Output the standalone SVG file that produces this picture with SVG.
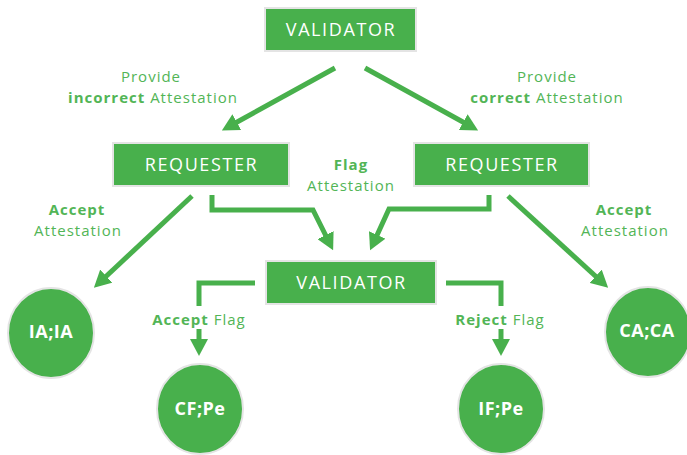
<svg xmlns="http://www.w3.org/2000/svg" width="687" height="455" viewBox="0 0 687 455">
<style>
.box{fill:#48b04c;stroke:#e4e4e4;stroke-width:2}
.circ{fill:#48b04c;stroke:#e4e4e4;stroke-width:2}
.bt{font-family:"Open Sans","Liberation Sans",sans-serif;font-size:18px;font-weight:500;fill:#fff;text-anchor:middle;letter-spacing:1.6px}
.ct{font-family:"Open Sans","Liberation Sans",sans-serif;font-size:18px;font-weight:bold;fill:#fff;text-anchor:middle;letter-spacing:0.5px}
.lb{font-family:"Open Sans","Liberation Sans",sans-serif;font-size:15px;fill:#52b556;text-anchor:middle;letter-spacing:1px}
.lb tspan.b{font-weight:bold}
.ln{fill:none;stroke:#48b04c;stroke-width:5;stroke-linejoin:miter;marker-end:url(#ah)}
.ln2{fill:none;stroke:#48b04c;stroke-width:5;stroke-linejoin:miter}
</style>
<defs>
<marker id="ah" markerUnits="userSpaceOnUse" markerWidth="17" markerHeight="18" viewBox="0 0 17 18" refX="10" refY="9" orient="auto">
<path d="M0,0 L17,9 L0,18 z" fill="#48b04c"/>
</marker>
</defs>
<rect width="687" height="455" fill="#fff"/>
<g id="connectors">
<line class="ln" x1="335" y1="68" x2="228" y2="127"/>
<line class="ln" x1="365" y1="68" x2="472" y2="127"/>
<line class="ln" x1="192" y1="196" x2="99" y2="283"/>
<path class="ln" d="M212,195 V210 H313 L330,244"/>
<path class="ln" d="M489,195 V209 H389 L373,244"/>
<line class="ln" x1="508" y1="196" x2="603" y2="283"/>
<path class="ln2" d="M255,283 H199 V306"/>
<line class="ln" x1="199" y1="329" x2="199" y2="349"/>
<path class="ln2" d="M446,283 H501 V306"/>
<line class="ln" x1="501" y1="329" x2="501" y2="349"/>
</g>
<g id="validator-top">
<rect class="box" x="265" y="8" width="151" height="43"/>
<text class="bt" x="341" y="36">VALIDATOR</text>
</g>
<g id="requester-left">
<rect class="box" x="113" y="143" width="176" height="43"/>
<text class="bt" x="201.5" y="171">REQUESTER</text>
</g>
<g id="requester-right">
<rect class="box" x="414" y="143" width="175" height="43"/>
<text class="bt" x="502" y="171">REQUESTER</text>
</g>
<g id="validator-mid">
<rect class="box" x="266" y="261" width="170" height="43"/>
<text class="bt" x="351.5" y="289">VALIDATOR</text>
</g>
<g id="ia">
<ellipse class="circ" cx="51" cy="333" rx="43" ry="45"/>
<text class="ct" x="51" y="338">IA;IA</text>
</g>
<g id="ca">
<ellipse class="circ" cx="648" cy="332" rx="43" ry="45"/>
<text class="ct" x="647" y="337">CA;CA</text>
</g>
<g id="cf">
<ellipse class="circ" cx="200" cy="409" rx="43" ry="45"/>
<text class="ct" x="200" y="415">CF;Pe</text>
</g>
<g id="if">
<ellipse class="circ" cx="501" cy="409" rx="43" ry="45"/>
<text class="ct" x="501" y="415">IF;Pe</text>
</g>
<g id="labels">
<text class="lb" x="151" y="82">Provide</text>
<text class="lb" x="153" y="103"><tspan class="b">incorrect</tspan> Attestation</text>
<text class="lb" x="547" y="82">Provide</text>
<text class="lb" x="547" y="103"><tspan class="b">correct</tspan> Attestation</text>
<text class="lb" x="351" y="170"><tspan class="b">Flag</tspan></text>
<text class="lb" x="351" y="191">Attestation</text>
<text class="lb" x="77" y="215"><tspan class="b">Accept</tspan></text>
<text class="lb" x="78" y="236">Attestation</text>
<text class="lb" x="624" y="215"><tspan class="b">Accept</tspan></text>
<text class="lb" x="625" y="236">Attestation</text>
<text class="lb" x="199" y="325"><tspan class="b">Accept</tspan> Flag</text>
<text class="lb" x="500" y="325"><tspan class="b">Reject</tspan> Flag</text>
</g>
</svg>
